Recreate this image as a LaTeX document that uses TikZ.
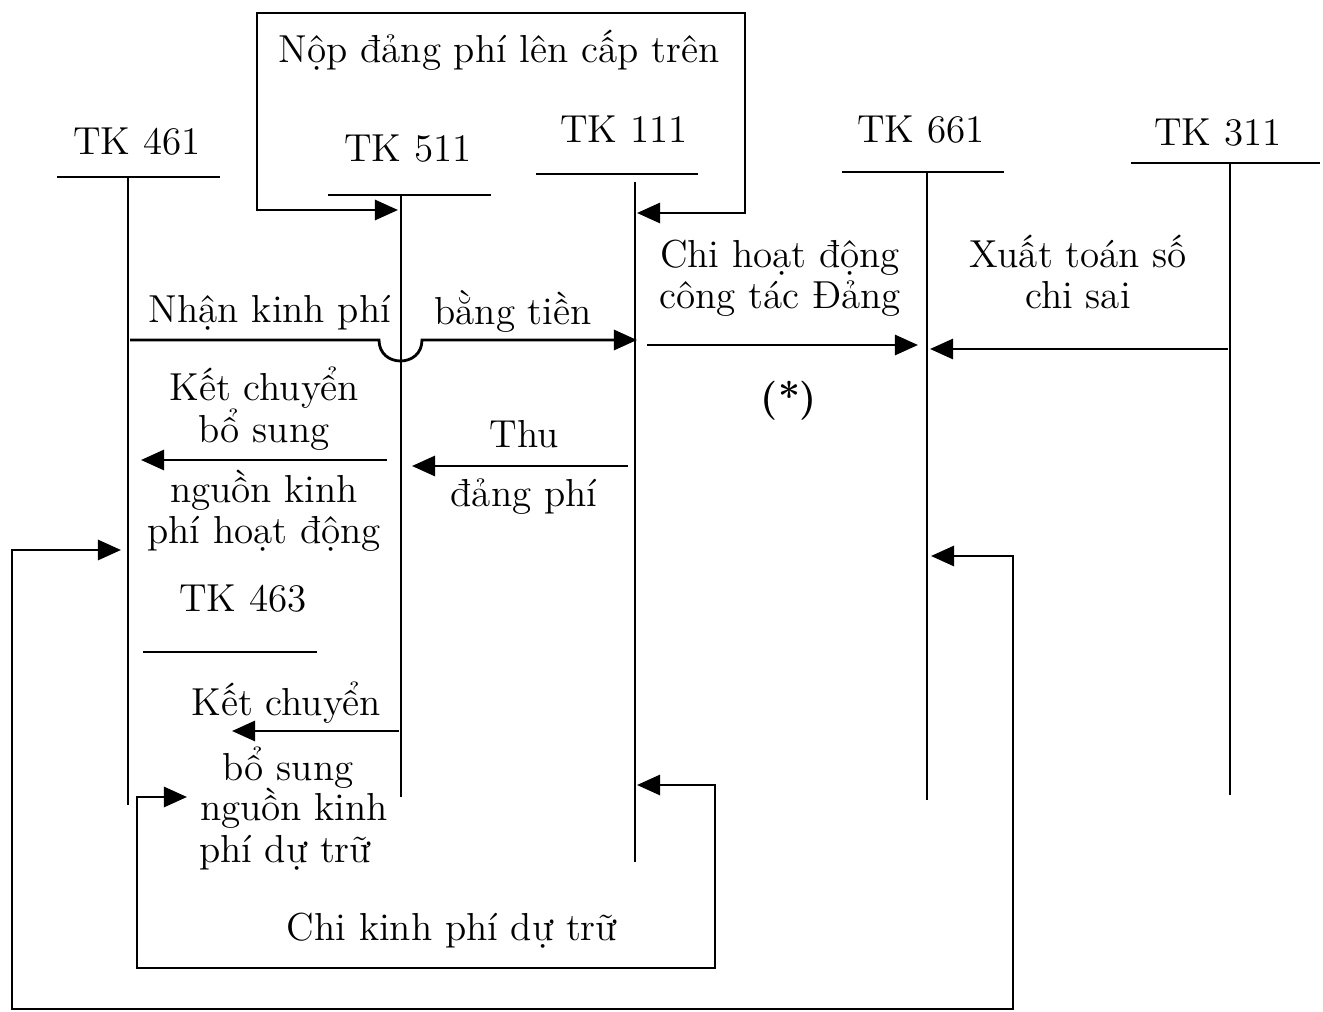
\documentclass[tikz,border=0pt]{standalone}
\usepackage{fontspec}
\usepackage{tikz}
\usetikzlibrary{arrows.meta}
\tikzstyle{rule} = [line width=0.8pt, line join=miter]
\tikzstyle{flow} = [rule, -{Triangle[length=2.3mm, width=2mm]}]
\tikzstyle{twoway} = [rule, {Triangle[length=2.3mm, width=2mm]}-{Triangle[length=2.3mm, width=2mm]}]
\tikzstyle{lbl} = [font=\fontsize{11.1}{13.3}\selectfont, inner sep=0pt, anchor=base]

\begin{document}
\begin{tikzpicture}[x=0.01cm, y=-0.01cm]
    \useasboundingbox (0,0) rectangle (1323,1012);
    % T accounts
    \node[lbl] (tk461) at (137,154) {TK 461};
    \draw[rule] (57,177) -- (220,177) (128,177) -- (128,805);
    \node[lbl] (tk511) at (408,161) {TK 511};
    \draw[rule] (328,195) -- (491,195) (401,195) -- (401,797);
    \node[lbl] (tk111) at (624,143) {TK 111};
    \draw[rule] (536,174) -- (698,174) (635,182) -- (635,862);
    \node[lbl] (tk661) at (921,143) {TK 661};
    \draw[rule] (842,172) -- (1004,172) (927,172) -- (927,800);
    \node[lbl] (tk311) at (1218,146) {TK 311};
    \draw[rule] (1131,163) -- (1320,163) (1230,163) -- (1230,795);
    \node[lbl] (tk463) at (243,611) {TK 463};
    \draw[rule] (143,652) -- (317,652);
    % nop dang phi
    \coordinate (in511) at (398,210);
    \coordinate (in111) at (637,213);
    \coordinate (nopA) at (257,210);
    \coordinate (nopB) at (257,13);
    \coordinate (nopC) at (745,13);
    \coordinate (nopD) at (745,213);
    \draw[twoway] (in511) -- (nopA) -- (nopB) -- (nopC) -- (nopD) -- (in111);
    \node[lbl] (nop) at (499,63) {Nộp đảng phí lên cấp trên};
    % nhan kinh phi
    \coordinate (nhanA) at (130,340);
    \coordinate (nhanB) at (379,340);
    \coordinate (nhanC) at (422,340);
    \coordinate (nhanD) at (637,340);
    \draw[flow] (nhanA) -- (nhanB) .. controls (379,368) and (422,368) .. (nhanC) -- (nhanD);
    \node[lbl] (nhan) at (270,322) {Nhận kinh phí};
    \node[lbl] (bangtien) at (513,324) {bằng tiền};
    % chi hoat dong
    \coordinate (chiA) at (647,345);
    \coordinate (chiB) at (918,345);
    \draw[flow] (chiA) -- (chiB);
    \node[lbl] (chi1) at (780,268) {Chi hoạt động};
    \node[lbl] (chi2) at (780,308) {công tác Đảng};
    \node[lbl, font=\fontsize{11.1}{13.3}\selectfont\bfseries] (star) at (789,410) {(*)};
    % xuat toan
    \coordinate (xtA) at (1228,349);
    \coordinate (xtB) at (930,349);
    \draw[flow] (xtA) -- (xtB);
    \node[lbl] (xt1) at (1078,268) {Xuất toán số};
    \node[lbl] (xt2) at (1078,308) {chi sai};
    % ket chuyen hoat dong
    \coordinate (kcA) at (387,460);
    \coordinate (kcB) at (141,460);
    \draw[flow] (kcA) -- (kcB);
    \node[lbl] (kc1) at (264,400) {Kết chuyển};
    \node[lbl] (kc2) at (264,442) {bổ sung};
    \node[lbl] (kc3) at (264,502) {nguồn kinh};
    \node[lbl] (kc4) at (264,543) {phí hoạt động};
    % thu dang phi
    \coordinate (thuA) at (628,466);
    \coordinate (thuB) at (412,466);
    \draw[flow] (thuA) -- (thuB);
    \node[lbl] (thu1) at (524,447) {Thu};
    \node[lbl] (thu2) at (524,506) {đảng phí};
    % ket chuyen du tru
    \coordinate (dtA) at (399,731);
    \coordinate (dtB) at (232,731);
    \draw[flow] (dtA) -- (dtB);
    \node[lbl] (dt1) at (286,715) {Kết chuyển};
    \node[lbl] (dt2) at (288,780) {bổ sung};
    \node[lbl] (dt3) at (294,820) {nguồn kinh};
    \node[lbl] (dt4) at (285,862) {phí dự trữ};
    % chi kinh phi du tru
    \coordinate (ckA) at (637,785);
    \coordinate (ckB) at (715,785);
    \coordinate (ckC) at (715,968);
    \coordinate (ckD) at (137,968);
    \coordinate (ckE) at (137,797);
    \coordinate (ckF) at (187,797);
    \draw[twoway] (ckA) -- (ckB) -- (ckC) -- (ckD) -- (ckE) -- (ckF);
    \node[lbl] (ck) at (452,940) {Chi kinh phí dự trữ};
    % vong ngoai
    \coordinate (ngA) at (931,556);
    \coordinate (ngB) at (1013,556);
    \coordinate (ngC) at (1013,1009);
    \coordinate (ngD) at (12,1009);
    \coordinate (ngE) at (12,550);
    \coordinate (ngF) at (121,550);
    \draw[twoway] (ngA) -- (ngB) -- (ngC) -- (ngD) -- (ngE) -- (ngF);
\end{tikzpicture}
\end{document}
